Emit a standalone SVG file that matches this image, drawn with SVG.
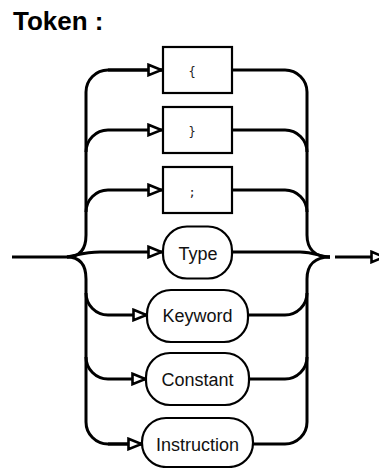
<svg xmlns="http://www.w3.org/2000/svg" width="379" height="468" viewBox="0 0 379 468">
  <style>
    .title { font-family: "Liberation Sans", Arial, sans-serif; font-weight: bold; font-size: 26px; fill: #000; }
    .term { fill: #fff; stroke: #000; stroke-width: 2.2; }
    .nonterm { fill: #fff; stroke: #000; stroke-width: 2.2; }
    .sym { font-family: "DejaVu Sans Mono", "Liberation Mono", monospace; font-size: 12px; fill: #222; text-anchor: middle; }
    .label { font-family: "Liberation Sans", Arial, sans-serif; font-size: 18px; fill: #111; text-anchor: middle; }
    .wire { fill: none; stroke: #000; stroke-width: 3; }
    .arrowed { marker-end: url(#arrow); }
  </style>
  <defs>
    <marker id="arrow" viewBox="0 0 16 14" refX="15" refY="7" markerWidth="16" markerHeight="14" markerUnits="userSpaceOnUse" orient="auto">
      <path d="M1.5,1.8 L14.5,7 L1.5,12.2 Z" fill="#fff" stroke="#000" stroke-width="2.6" stroke-linejoin="miter"/>
    </marker>
  </defs>

  <text class="title" x="13" y="30">Token :</text>

  <!-- connectors -->
  <g id="connectors">
    <!-- entry line and split -->
    <path class="wire" d="M12,257 L67,257" stroke-width="3.5"/>
    <path class="wire" d="M67,257 C80,257 86,249 86,235 L86,92 A22,22 0 0 1 108,70 L162,70" />
    <path class="wire" d="M67,257 C80,257 86,265 86,279 L86,422 A22,22 0 0 0 108,444 L142,444" />
    <!-- left branches -->
    <path class="wire arrowed" d="M108,70 L162,70"/>
    <path class="wire arrowed" d="M86,152 A22,22 0 0 1 108,130 L162,130"/>
    <path class="wire arrowed" d="M86,212 A22,22 0 0 1 108,190 L162,190"/>
    <path class="wire arrowed" d="M67,257 C78,255 85,252 100,252 L162,252"/>
    <path class="wire arrowed" d="M86,293 A22,22 0 0 0 108,315 L147,315"/>
    <path class="wire arrowed" d="M86,357 A22,22 0 0 0 108,379 L146,379"/>
    <path class="wire arrowed" d="M108,444 L142,444"/>
    <!-- right branches and merge -->
    <path class="wire" d="M232,70 L285,70 A22,22 0 0 1 307,92 L307,235 C307,250 316,257 330,257"/>
    <path class="wire" d="M232,130 L285,130 A22,22 0 0 1 307,152"/>
    <path class="wire" d="M232,190 L285,190 A22,22 0 0 1 307,212"/>
    <path class="wire" d="M232,252 L300,252 C315,252 320,257 330,257"/>
    <path class="wire" d="M248,315 L285,315 A22,22 0 0 0 307,293"/>
    <path class="wire" d="M249,379 L285,379 A22,22 0 0 0 307,357"/>
    <path class="wire" d="M253,444 L285,444 A22,22 0 0 0 307,422 L307,279 C307,264 316,257 330,257"/>
    <!-- exit -->
    <path class="wire arrowed" d="M335,257 L385,257" stroke-width="2.5"/>
  </g>

  <g id="lbrace">
    <rect class="term" x="163" y="47" width="69" height="46"/>
    <text class="sym" x="192" y="76">{</text>
  </g>
  <g id="rbrace">
    <rect class="term" x="163" y="107" width="69" height="46"/>
    <text class="sym" x="192" y="136">}</text>
  </g>
  <g id="semicolon">
    <rect class="term" x="163" y="167" width="69" height="46"/>
    <text class="sym" x="192" y="196">;</text>
  </g>
  <g id="type">
    <rect class="nonterm" x="163" y="226.5" width="69" height="52" rx="24" ry="24"/>
    <text class="label" x="198" y="259.5">Type</text>
  </g>
  <g id="keyword">
    <rect class="nonterm" x="147" y="290" width="101" height="52" rx="24" ry="24"/>
    <text class="label" x="197.5" y="322">Keyword</text>
  </g>
  <g id="constant">
    <rect class="nonterm" x="146" y="353" width="103" height="52" rx="24" ry="24"/>
    <text class="label" x="197.5" y="386">Constant</text>
  </g>
  <g id="instruction">
    <rect class="nonterm" x="142" y="418" width="111" height="49" rx="24" ry="24"/>
    <text class="label" x="197.5" y="451">Instruction</text>
  </g>
</svg>
